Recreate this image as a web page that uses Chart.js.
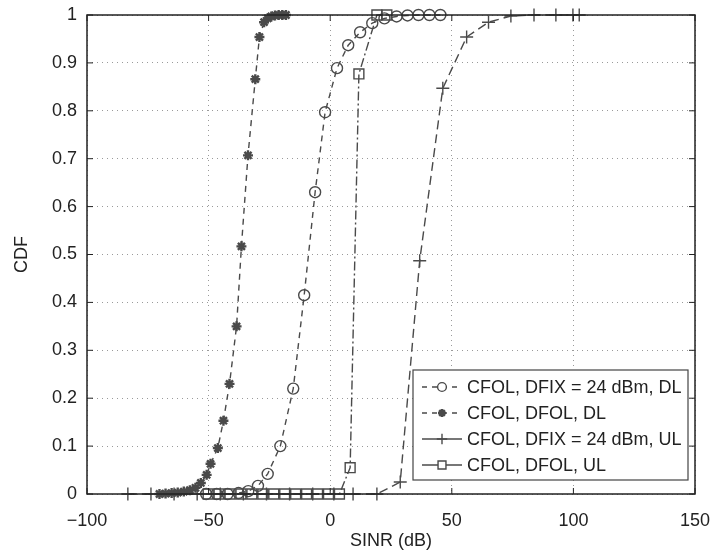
<!DOCTYPE html>
<html>
<head>
<meta charset="utf-8">
<title>SINR CDF</title>
<script src="https://cdn.jsdelivr.net/npm/chart.js@4.4.1/dist/chart.umd.min.js"></script>
<style>
  html, body { margin: 0; background: #fff; }
  canvas { display: block; }
</style>
</head>
<body>
<canvas id="cdfChart" width="714" height="558"></canvas>
<script>
// values
const seriesNames = [
    'CFOL, DFIX = 24 dBm, DL',
    'CFOL, DFOL, DL',
    'CFOL, DFIX = 24 dBm, UL',
    'CFOL, DFOL, UL'
];

const sinrFixDl = [-51, -46.7, -42.2, -37.7, -33.7, -29.7, -25.7, -20.5, -15.2, -10.7, -6.2, -2.1, 2.8, 7.4, 12.3, 17.3, 22.3, 27.3, 31.8, 36.3, 40.8, 45.3];
const cdfFixDl = [0, 0, 0, 0.002, 0.006, 0.017, 0.042, 0.10, 0.22, 0.415, 0.63, 0.797, 0.889, 0.937, 0.964, 0.983, 0.993, 0.997, 0.999, 1, 1, 1];

const sinrFolDl = [-70.2, -67.7, -65.2, -62.7, -60.2, -57.7, -55.4, -53.2, -50.8, -49.2, -46.2, -43.9, -41.4, -38.5, -36.5, -33.8, -30.8, -29.1, -27.2, -25.7, -24.2, -22.7, -21.2, -19.7, -18.2];
const cdfFolDl = [0, 0.001, 0.002, 0.003, 0.005, 0.008, 0.013, 0.023, 0.04, 0.063, 0.096, 0.153, 0.23, 0.35, 0.517, 0.707, 0.866, 0.954, 0.985, 0.993, 0.997, 0.999, 1, 1, 1];

const sinrFixUl = [-83.2, -73.7, -64.2, -54.7, -45.2, -35.7, -26.2, -16.7, -7.2, 1.5, 9.4, 19.2, 28.8, 36.8, 46.3, 56.1, 65.1, 74.3, 83.8, 92.8, 99.8, 102.4];
const cdfFixUl = [0, 0, 0, 0, 0, 0, 0, 0, 0, 0, 0, 0, 0.025, 0.487, 0.847, 0.954, 0.985, 0.998, 1, 1, 1, 1];

const sinrFolUl = [-50.2, -45.7, -41.2, -36.7, -32.2, -27.7, -23.2, -18.7, -14.2, -9.7, -5.2, -0.7, 3.8, 8.2, 11.8, 19.2, 23.3];
const cdfFolUl = [0, 0, 0, 0, 0, 0, 0, 0, 0, 0, 0, 0, 0, 0.055, 0.877, 1, 1];

const xTicks = [-100, -50, 0, 50, 100, 150];
const yTicks = [0, 0.1, 0.2, 0.3, 0.4, 0.5, 0.6, 0.7, 0.8, 0.9, 1];

const FONT = '"Liberation Sans", Arial, sans-serif';
const INK = '#4a4a4a';

const toPoints = (xs, ys) => xs.map((x, i) => ({ x: x, y: ys[i] }));

const makeSet = (label, xs, ys, style, radius, dash, width, keyDash) => ({
    label: label,
    data: toPoints(xs, ys),
    showLine: true,
    borderColor: INK,
    borderWidth: 1.4,
    borderDash: dash,
    keyDash: keyDash,
    pointStyle: style,
    pointRadius: radius,
    pointHoverRadius: radius,
    pointBorderColor: INK,
    pointBackgroundColor: 'rgba(255,255,255,0)',
    pointBorderWidth: width,
    clip: false
});

const datasets = [
    makeSet(seriesNames[0], sinrFixDl, cdfFixDl, 'circle', 5.5, [6, 5], 1.4, [5, 5]),
    makeSet(seriesNames[1], sinrFolDl, cdfFolDl, 'star', 5, [6, 5], 2.4, [5, 5]),
    makeSet(seriesNames[2], sinrFixUl, cdfFixUl, 'cross', 6.5, [9, 5], 1.4, []),
    makeSet(seriesNames[3], sinrFolUl, cdfFolUl, 'rect', 7, [9, 3, 2, 3], 1.4, [])
];

// box round the plot with inward ticks, and the legend drawn MATLAB style
const framePlugin = {
    id: 'frame',
    afterDraw(chart) {
        const { ctx, chartArea: a, scales } = chart;
        ctx.save();
        ctx.strokeStyle = '#222';
        ctx.lineWidth = 1.5;
        ctx.setLineDash([]);
        ctx.strokeRect(a.left, a.top, a.right - a.left, a.bottom - a.top);
        ctx.lineWidth = 1;
        const len = 6;
        xTicks.forEach(v => {
            const px = scales.x.getPixelForValue(v);
            ctx.beginPath();
            ctx.moveTo(px, a.bottom); ctx.lineTo(px, a.bottom - len);
            ctx.moveTo(px, a.top); ctx.lineTo(px, a.top + len);
            ctx.stroke();
        });
        yTicks.forEach(v => {
            const py = scales.y.getPixelForValue(v);
            ctx.beginPath();
            ctx.moveTo(a.left, py); ctx.lineTo(a.left + len, py);
            ctx.moveTo(a.right, py); ctx.lineTo(a.right - len, py);
            ctx.stroke();
        });

        // legend
        const bx = 413, by = 370, bw = 275, bh = 110;
        ctx.fillStyle = '#fff';
        ctx.fillRect(bx, by, bw, bh);
        ctx.strokeStyle = '#444';
        ctx.lineWidth = 1.2;
        ctx.strokeRect(bx, by, bw, bh);
        const rows = [387, 413, 439, 465];
        ctx.font = '18px ' + FONT;
        ctx.textBaseline = 'middle';
        chart.data.datasets.forEach((ds, i) => {
            const y = rows[i];
            ctx.strokeStyle = INK;
            ctx.lineWidth = 1.4;
            ctx.setLineDash(ds.keyDash);
            ctx.beginPath();
            ctx.moveTo(422, y); ctx.lineTo(462, y);
            ctx.stroke();
            ctx.setLineDash([]);
            ctx.lineWidth = ds.pointBorderWidth;
            ctx.fillStyle = '#fff';
            Chart.helpers.drawPoint(ctx, {
                pointStyle: ds.pointStyle,
                radius: ds.pointRadius * 0.8,
                rotation: 0,
                borderWidth: ds.pointBorderWidth
            }, 442, y);
            ctx.fillStyle = '#222';
            ctx.fillText(ds.label, 467, y + 1);
        });
        ctx.restore();
    }
};

new Chart(document.getElementById('cdfChart'), {
    type: 'scatter',
    data: { datasets: datasets },
    options: {
        responsive: false,
        animation: false,
        events: [],
        layout: { padding: { top: 15, right: 19, left: 0, bottom: 0 } },
        plugins: {
            legend: { display: false },
            tooltip: { enabled: false }
        },
        scales: {
            x: {
                type: 'linear',
                min: -100,
                max: 150,
                afterFit: s => {
                    s.height = 64;
                    s.paddingLeft = 0;
                    s.paddingRight = 0;
                },
                afterBuildTicks: s => { s.ticks = xTicks.map(v => ({ value: v })); },
                ticks: {
                    padding: 16,
                    color: '#222',
                    font: { family: FONT, size: 18 },
                    callback: v => String(v).replace('-', '\u2212')
                },
                grid: { color: '#9a9a9a', lineWidth: 1, drawTicks: false },
                border: { display: false, dash: [1, 4] },
                title: {
                    display: true,
                    text: 'SINR (dB)',
                    color: '#222',
                    font: { family: FONT, size: 18 },
                    padding: { top: 0, bottom: 6 }
                }
            },
            y: {
                type: 'linear',
                min: 0,
                max: 1,
                afterFit: s => {
                    s.width = 87;
                    s.paddingTop = 0;
                    s.paddingBottom = 0;
                },
                afterBuildTicks: s => { s.ticks = yTicks.map(v => ({ value: v })); },
                ticks: {
                    padding: 10,
                    color: '#222',
                    font: { family: FONT, size: 18 },
                    callback: v => String(+v.toFixed(1))
                },
                grid: { color: '#9a9a9a', lineWidth: 1, drawTicks: false },
                border: { display: false, dash: [1, 4] },
                title: {
                    display: true,
                    text: 'CDF',
                    color: '#222',
                    font: { family: FONT, size: 18 },
                    padding: { top: 11, bottom: 0 }
                }
            }
        }
    },
    plugins: [framePlugin]
});
</script>
</body>
</html>
